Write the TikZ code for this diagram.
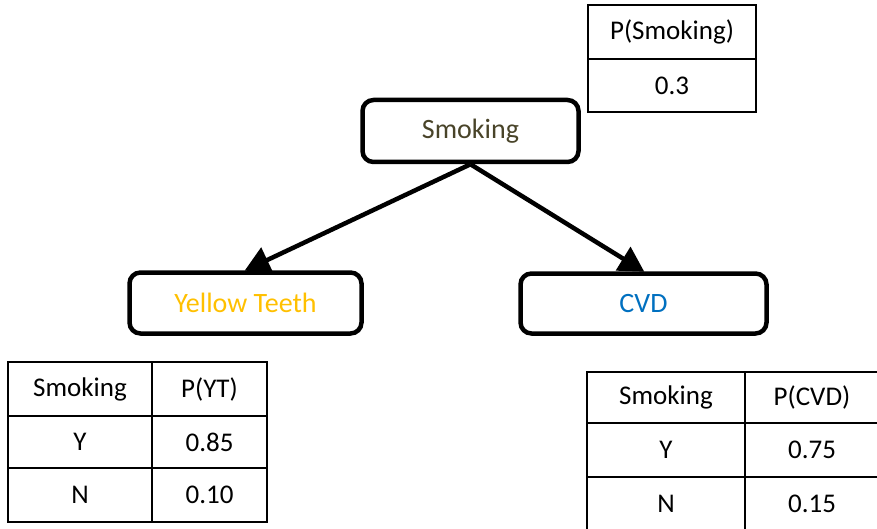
\documentclass[tikz,border=0pt]{standalone}
\usepackage{fontspec}
\setmainfont{Carlito}
\usetikzlibrary{arrows.meta}
\definecolor{smktext}{HTML}{494429}
\definecolor{yttext}{HTML}{FFC000}
\definecolor{cvdtext}{HTML}{0070C0}
\tikzset{
  varbox/.style={draw, line width=4.5pt, rounded corners=11pt, fill=white,
    inner sep=0pt, font=\fontsize{28}{30}\selectfont},
  cell/.style={draw, line width=2pt, inner sep=0pt,
    font=\fontsize{27}{30}\selectfont},
  link/.style={line width=4.5pt, -{Triangle[length=25pt,width=27pt]}, shorten >=-1pt},
}
\begin{document}
\begin{tikzpicture}[x=1pt,y=-1pt]
  \useasboundingbox (0,0) rectangle (877,529);
  \clip (0,0) rectangle (877,529);

  % network nodes
  \node[varbox, minimum width=216pt, minimum height=62pt, text=smktext] (smk) at (470.5,131) {Smoking};
  \node[varbox, minimum width=232pt, minimum height=61pt, text=yttext] (yt) at (245.5,303) {Yellow Teeth};
  \node[varbox, minimum width=246pt, minimum height=60pt, text=cvdtext] (cvd) at (643.5,303.5) {CVD};

  % edges
  \draw[link] (smk.south) -- (yt.north);
  \draw[link] (smk.south) -- (cvd.north);

  % prior of Smoking
  \node[cell, minimum width=168pt, minimum height=54pt] (ps) at (672,32) {P(Smoking)};
  \node[cell, minimum width=168pt, minimum height=53pt] (psv) at (672,85.5) {0.3};

  % table for Yellow Teeth
  \node[cell, minimum width=144pt, minimum height=54pt] (yth1) at (80,389) {Smoking};
  \node[cell, minimum width=115pt, minimum height=54pt] (yth2) at (209.5,389) {P(YT)};
  \node[cell, minimum width=144pt, minimum height=52pt] (yty1) at (80,442) {Y};
  \node[cell, minimum width=115pt, minimum height=52pt] (yty2) at (209.5,442) {0.85};
  \node[cell, minimum width=144pt, minimum height=54pt] (ytn1) at (80,495) {N};
  \node[cell, minimum width=115pt, minimum height=54pt] (ytn2) at (209.5,495) {0.10};

  % table for CVD
  \node[cell, minimum width=158pt, minimum height=51pt] (cvh1) at (666,397.5) {Smoking};
  \node[cell, minimum width=134pt, minimum height=51pt] (cvh2) at (812,397.5) {P(CVD)};
  \node[cell, minimum width=158pt, minimum height=54pt] (cvy1) at (666,450) {Y};
  \node[cell, minimum width=134pt, minimum height=54pt] (cvy2) at (812,450) {0.75};
  \node[cell, minimum width=158pt, minimum height=54pt] (cvn1) at (666,504) {N};
  \node[cell, minimum width=134pt, minimum height=54pt] (cvn2) at (812,504) {0.15};
\end{tikzpicture}
\end{document}
